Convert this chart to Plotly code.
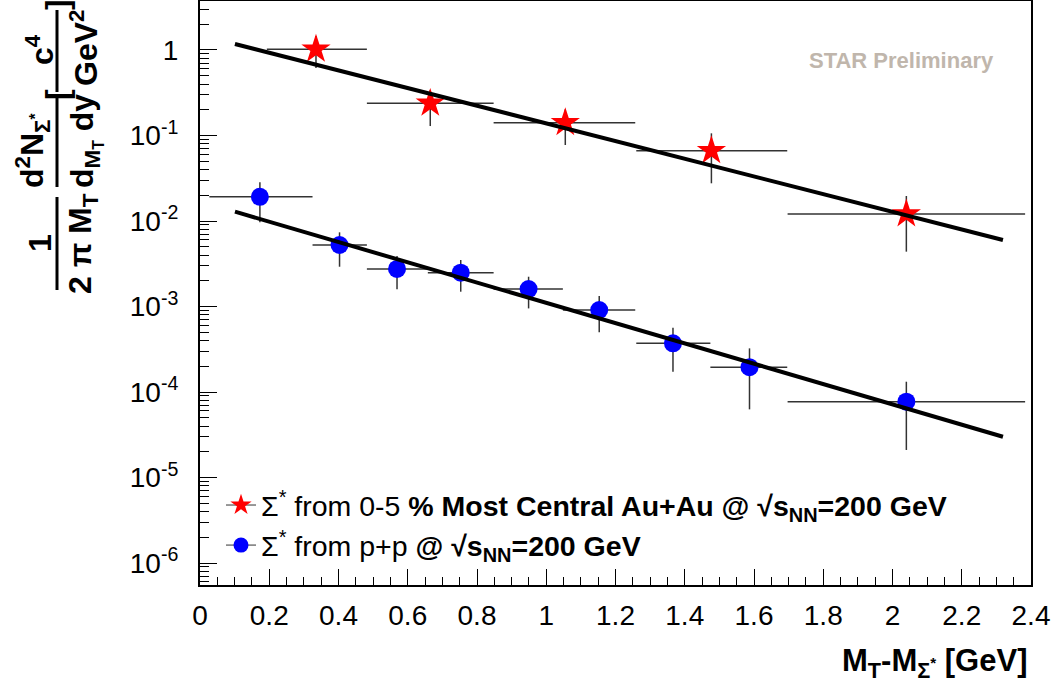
import plotly.graph_objects as go

# ---------------- data ----------------
# Sigma* in 0-5% most central Au+Au
x_auau = [0.335, 0.665, 1.055, 1.477, 2.040]
y_auau = [1.02, 0.238, 0.141, 0.0664, 0.0121]
xlo_auau = [0.193, 0.482, 0.848, 1.260, 1.697]
xhi_auau = [0.482, 0.848, 1.257, 1.696, 2.383]
ylo_auau = [0.616, 0.129, 0.0774, 0.0276, 0.00438]
yhi_auau = [1.46, 0.340, 0.202, 0.106, 0.0196]

# Sigma* in p+p
x_pp = [0.173, 0.403, 0.569, 0.753, 0.949, 1.153, 1.366, 1.587, 2.040]
y_pp = [0.0192, 0.00524, 0.00275, 0.00249, 0.00160, 0.00091, 0.000371, 0.000195, 7.7e-5]
xlo_pp = [0.027, 0.325, 0.482, 0.658, 0.848, 1.048, 1.260, 1.474, 1.697]
xhi_pp = [0.325, 0.482, 0.658, 0.848, 1.048, 1.257, 1.474, 1.696, 2.383]
ylo_pp = [0.00966, 0.00292, 0.00159, 0.00149, 0.00095, 0.000499, 0.000173, 6.27e-5, 2.1e-5]
yhi_pp = [0.0283, 0.00737, 0.0039, 0.0035, 0.00223, 0.00133, 0.000565, 0.000324, 1.32e-4]

# exponential fits (straight lines on log scale), end points
fit_x = [0.101, 2.319]
fit_auau = [1.175, 0.0060]
fit_pp = [0.01285, 3.0e-5]

# axis ticks
x_ticks = [0, 0.2, 0.4, 0.6, 0.8, 1, 1.2, 1.4, 1.6, 1.8, 2, 2.2, 2.4]
x_ticktext = ["0", "0.2", "0.4", "0.6", "0.8", "1", "1.2", "1.4", "1.6", "1.8", "2", "2.2", "2.4"]
y_ticks = [1, 1e-1, 1e-2, 1e-3, 1e-4, 1e-5, 1e-6]
y_ticktext = ["1", "10<sup>-1</sup>", "10<sup>-2</sup>", "10<sup>-3</sup>",
              "10<sup>-4</sup>", "10<sup>-5</sup>", "10<sup>-6</sup>"]
y_minor = [k * 10.0 ** d for d in range(-7, 1) for k in range(2, 10)]

FONT = "Liberation Sans, Arial, Helvetica, sans-serif"

def diff(a, b):
    return [p - q for p, q in zip(a, b)]

fig = go.Figure()

fig.add_trace(go.Scatter(
    x=x_auau, y=y_auau, mode="markers", showlegend=False,
    marker=dict(symbol="star", size=22, color="#ff0000", line=dict(width=0)),
    error_x=dict(type="data", symmetric=False, array=diff(xhi_auau, x_auau),
                 arrayminus=diff(x_auau, xlo_auau), width=0, thickness=1.5, color="#333333"),
    error_y=dict(type="data", symmetric=False, array=diff(yhi_auau, y_auau),
                 arrayminus=diff(y_auau, ylo_auau), width=0, thickness=1.5, color="#333333"),
))
fig.add_trace(go.Scatter(
    x=x_pp, y=y_pp, mode="markers", showlegend=False,
    marker=dict(symbol="circle", size=18, color="#0000ff", line=dict(width=0)),
    error_x=dict(type="data", symmetric=False, array=diff(xhi_pp, x_pp),
                 arrayminus=diff(x_pp, xlo_pp), width=0, thickness=1.5, color="#333333"),
    error_y=dict(type="data", symmetric=False, array=diff(yhi_pp, y_pp),
                 arrayminus=diff(y_pp, ylo_pp), width=0, thickness=1.5, color="#333333"),
))
fig.add_trace(go.Scatter(x=fit_x, y=fit_auau, mode="lines", showlegend=False,
                         line=dict(color="black", width=4)))
fig.add_trace(go.Scatter(x=fit_x, y=fit_pp, mode="lines", showlegend=False,
                         line=dict(color="black", width=4)))

# legend entries
fig.add_trace(go.Scatter(
    x=[None], y=[None], mode="lines+markers", legendgroup="a",
    name="Σ<sup>*</sup> from 0-5 <b>% Most Central Au+Au @ √s<sub>NN</sub>=200 GeV</b>",
    marker=dict(symbol="star", size=18, color="#ff0000"),
    line=dict(color="#333333", width=1)))
fig.add_trace(go.Scatter(
    x=[None], y=[None], mode="lines+markers", legendgroup="b",
    name="Σ<sup>*</sup> from p+p <b>@ √s<sub>NN</sub>=200 GeV</b>",
    marker=dict(symbol="circle", size=15, color="#0000ff"),
    line=dict(color="#333333", width=1)))

L, R, T, B = 200, 1031, 1, 585
W, H = R - L, B - T

def px(x):
    return (x - L) / W

def py(y):
    return (B - y) / H

fig.update_layout(
    width=1059, height=693,
    margin=dict(l=L, r=1059 - R, t=T, b=693 - B, pad=0, autoexpand=False),
    paper_bgcolor="white", plot_bgcolor="white",
    showlegend=True,
    legend=dict(x=px(221), y=py(480), xanchor="left", yanchor="top",
                bgcolor="rgba(0,0,0,0)", font=dict(family=FONT, size=28.5, color="black"),
                traceorder="grouped", tracegroupgap=0, itemwidth=30),
    xaxis=dict(range=[0, 2.4], tickvals=x_ticks, ticktext=x_ticktext, automargin=False,
               ticks="inside", ticklen=16, tickwidth=1, tickcolor="black",
               minor=dict(ticks="inside", dtick=0.05, ticklen=8, tickwidth=1, tickcolor="black"),
               showline=True, linecolor="black", linewidth=2, mirror=True,
               showgrid=False, zeroline=False,
               tickfont=dict(family=FONT, size=28, color="black"), ticklabelstandoff=4),
    yaxis=dict(type="log", range=[-6.257, 0.573], tickvals=y_ticks, ticktext=y_ticktext,
               automargin=False,
               ticks="inside", ticklen=17, tickwidth=1, tickcolor="black",
               minor=dict(ticks="inside", tickvals=y_minor, ticklen=9, tickwidth=1, tickcolor="black"),
               showline=True, linecolor="black", linewidth=2, mirror=True,
               showgrid=False, zeroline=False,
               tickfont=dict(family=FONT, size=28, color="black"), ticklabelstandoff=14),
)

ann = []
def rot(text, x, y, size=32):
    ann.append(dict(text=text, x=px(x), y=py(y), xref="paper", yref="paper",
                    xanchor="center", yanchor="middle", textangle=-90, showarrow=False,
                    font=dict(family=FONT, size=size, color="black")))

rot("<b>1</b>", 40, 243)
rot("<b>2 π M<sub>T</sub></b>", 82, 243)
rot("<b>d<sup>2</sup>N<sub>Σ<sup>*</sup></sub></b>", 33, 150)
rot("<b>d<sub>M<sub>T</sub></sub> dy</b>", 86, 141)
rot("<b>[</b>", 57, 95)
rot("<b>c<sup>4</sup></b>", 40, 50)
rot("<b>GeV<sup>2</sup></b>", 84, 48)
rot("<b>]</b>", 57, 5)

ann.append(dict(text="<b>M<sub>T</sub>-M<sub>Σ<sup>*</sup></sub> [GeV]</b>",
                x=px(1029), y=py(663), xref="paper", yref="paper",
                xanchor="right", yanchor="middle", showarrow=False,
                font=dict(family=FONT, size=31, color="black")))
ann.append(dict(text="<b>STAR Preliminary</b>", x=px(996), y=py(60), xref="paper", yref="paper",
                xanchor="right", yanchor="middle", showarrow=False,
                font=dict(family=FONT, size=22, color="#c0b6ac")))
fig.update_layout(annotations=ann)

shapes = []
for (x0, y0, y1) in [(57, 197, 290), (57, 95, 187), (57, 10, 92)]:
    shapes.append(dict(type="line", xref="paper", yref="paper",
                       x0=px(x0), x1=px(x0), y0=py(y0), y1=py(y1),
                       line=dict(color="black", width=3)))
fig.update_layout(shapes=shapes)

fig.write_html("out.html", config={"displayModeBar": False},
               post_script="document.body.style.margin='0';")
